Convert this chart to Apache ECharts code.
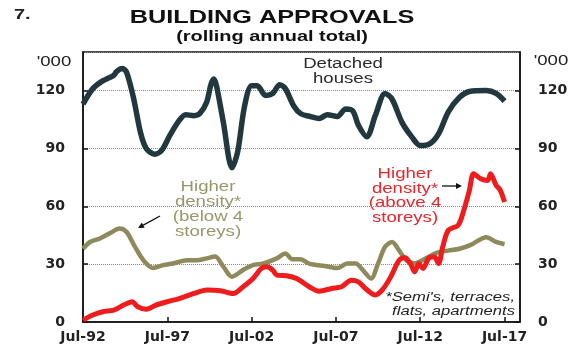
<!DOCTYPE html>
<html>
<head>
<meta charset="utf-8">
<title>Building approvals</title>
<script src="https://cdn.jsdelivr.net/npm/echarts@6/dist/echarts.min.js"></script>
<style>
html, body { margin: 0; padding: 0; background: #fff; }
#chart { width: 580px; height: 352px; }
</style>
</head>
<body>
<div id="chart"></div>
<script>
// x values are months counted from Jul-92
var xTickLabels = ['Jul-92', 'Jul-97', 'Jul-02', 'Jul-07', 'Jul-12', 'Jul-17'];

var detachedMonths = [0, 7, 14, 22, 24, 28, 31, 36, 41, 45, 51, 56, 62, 68, 73, 79, 83, 88, 91, 93,
  95, 100, 106, 110, 115, 120, 124, 130, 135, 140, 144, 150, 155, 162, 168, 174, 181, 187, 192, 196,
  202, 208, 215, 220, 227, 234, 240, 247, 253, 260, 268, 275, 287, 294, 300];
var detachedValues = [113, 121, 125, 128, 130, 131.5, 129.5, 116, 98, 90, 87, 89, 97, 104, 107.5, 107, 108, 114, 123, 126,
  122.5, 103, 80, 88, 112, 122.5, 122.5, 117.5, 118.5, 123, 121, 112, 108, 106.5, 105.5, 107.5, 106.5, 110.5, 109.5, 102,
  96, 107, 118.5, 115.5, 103.5, 96, 91.5, 92.5, 97.5, 109, 116.5, 119.5, 120, 118.5, 114.5];

var belowMonths = [0, 5, 12, 19, 26, 31, 37, 43, 50, 57, 64, 74, 81, 88, 94, 100, 106, 114, 121, 128,
  138, 144, 149, 155, 161, 172, 181, 188, 194, 199, 205, 210, 215, 220, 225, 230, 236, 244, 252, 260,
  268, 276, 287, 294, 300];
var belowValues = [38, 41.5, 43.3, 46, 48.5, 46.7, 39, 32, 28, 29.5, 30.3, 32, 32, 33, 34, 28.6, 23.5, 27, 29.5, 30.3,
  33, 35.5, 32.5, 32.5, 30.3, 29, 28, 30.3, 30.3, 27, 22.6, 30.3, 39, 41.5, 37, 32, 30.5, 33, 36, 37,
  38, 40, 44, 41.5, 40.3];

var aboveMonths = [0, 7, 14, 22, 29, 35, 39, 45, 52, 60, 69, 79, 88, 98, 107, 114, 121, 127, 131, 135,
  138, 145, 152, 161, 168, 177, 184, 191, 196, 201, 208, 213, 219, 225, 229, 233, 236, 239, 242, 246,
  250, 253, 256, 260, 267, 271, 275, 278, 283, 288, 290, 294, 297, 300];
var aboveValues = [1, 3.6, 5.3, 6.2, 8.8, 10.5, 7.9, 6.6, 8.8, 10.5, 12.3, 14.8, 16.6, 16.2, 14.8, 18.3, 22.6, 27.8, 28.6, 26.9,
  24.3, 24, 22.5, 18.3, 16, 17.4, 18.3, 21.7, 20.8, 17.4, 14, 16.6, 23.4, 32.1, 33.5, 30.3, 26, 30.3, 27.8, 33,
  33.8, 30.3, 39, 47.6, 50.2, 57.9, 68.3, 76.9, 74.3, 73.4, 76.9, 70.9, 68.3, 62.2];

function pairs(xs, ys) {
  return xs.map(function (x, i) { return [x, ys[i]]; });
}

var font = 'Arial, "Liberation Sans", sans-serif';
var stretch = 1.33;   // the original picture is a bit wider than tall

function label(text, x, y, size, color, extra) {
  extra = extra || {};
  return {
    type: 'text', x: x, y: y, scaleX: stretch, silent: true,
    style: {
      text: text,
      fill: color,
      font: (extra.style || 'normal') + ' ' + (extra.weight || 'normal') + ' ' + size + 'px ' + font,
      align: extra.align || 'center', textAlign: extra.align || 'center',
      verticalAlign: 'middle', textVerticalAlign: 'middle',
      lineHeight: extra.lineHeight || size
    }
  };
}

function arrow(x1, y1, x2, y2) {
  var a = Math.atan2(y2 - y1, x2 - x1), len = 6, w = 3;
  var bx = x2 - len * Math.cos(a), by = y2 - len * Math.sin(a);
  return {
    type: 'group', silent: true,
    children: [
      { type: 'line', shape: { x1: x1, y1: y1, x2: bx, y2: by }, style: { stroke: '#111', lineWidth: 1.3 } },
      { type: 'polygon', shape: { points: [[x2, y2],
        [bx + w * Math.sin(a), by - w * Math.cos(a)],
        [bx - w * Math.sin(a), by + w * Math.cos(a)]] }, style: { fill: '#111' } }
    ]
  };
}

var axisText = { fontFamily: 'DejaVu Sans', fontSize: 14, fontWeight: 'bold', color: '#222' };

var chart = echarts.init(document.getElementById('chart'));
chart.setOption({
  animation: false,
  grid: { left: 83, right: 60, top: 52, bottom: 30, show: true, borderColor: '#111', borderWidth: 1.5 },
  xAxis: {
    type: 'value', min: 0, max: 311, interval: 60,
    axisLine: { lineStyle: { color: '#111', width: 1.5 } },
    axisTick: { inside: true, length: 5, lineStyle: { color: '#111', width: 1.5 } },
    axisLabel: Object.assign({ margin: 8, showMaxLabel: false,
      formatter: function (v) { return v % 60 === 0 ? xTickLabels[v / 60] : ''; } }, axisText),
    splitLine: { show: false }
  },
  yAxis: [{
    type: 'value', min: 0, max: 140, interval: 30, position: 'left',
    axisLine: { show: true, lineStyle: { color: '#111', width: 1.5 } },
    axisTick: { show: true, inside: true, length: 5, lineStyle: { color: '#111', width: 1.5 } },
    axisLabel: Object.assign({ margin: 18, showMaxLabel: false,
      formatter: function (v) { return v === 140 ? '' : v; } }, axisText),
    splitLine: { show: true, lineStyle: { color: '#888', type: 'dotted', width: 1 } }
  }, {
    type: 'value', min: 0, max: 140, interval: 30, position: 'right',
    axisLine: { show: true, lineStyle: { color: '#111', width: 1.5 } },
    axisTick: { show: true, inside: true, length: 5, lineStyle: { color: '#111', width: 1.5 } },
    axisLabel: Object.assign({ margin: 18, showMaxLabel: false,
      formatter: function (v) { return v === 140 ? '' : v; } }, axisText),
    splitLine: { show: false }
  }],
  series: [{
    name: 'Detached houses', type: 'line', smooth: 0.3, symbol: 'none',
    lineStyle: { color: '#22383f', width: 5.5 },
    data: pairs(detachedMonths, detachedValues)
  }, {
    name: 'Higher density (below 4 storeys)', type: 'line', smooth: 0.3, symbol: 'none',
    lineStyle: { color: '#8e8a5b', width: 4.5 },
    data: pairs(belowMonths, belowValues)
  }, {
    name: 'Higher density (above 4 storeys)', type: 'line', smooth: 0.3, symbol: 'none',
    lineStyle: { color: '#ee1c1c', width: 5 },
    data: pairs(aboveMonths, aboveValues)
  }],
  graphic: [
    label('7.', 14, 15, 15, '#222', { align: 'left', weight: 'bold' }),
    label('BUILDING APPROVALS', 272, 18, 19, '#111', { weight: 'bold' }),
    label('(rolling annual total)', 272, 37, 15, '#111', { weight: 'bold' }),
    label("'000", 54, 62, 14, '#222'),
    label("'000", 551, 61, 14, '#222'),
    label('Detached\nhouses', 343, 72, 14, '#2b2b2b', { lineHeight: 15 }),
    label('Higher\ndensity*\n(above 4\nstoreys)', 405, 196, 14, '#e8262b', { lineHeight: 14.5 }),
    label('Higher\ndensity*\n(below 4\nstoreys)', 208, 209.5, 14, '#99966a', { lineHeight: 15 }),
    label("*Semi's, terraces,\nflats, apartments", 515, 305, 12.5, '#222', { align: 'right', style: 'italic', lineHeight: 14 }),
    arrow(160, 216, 138, 228),
    arrow(442, 186, 462, 186)
  ]
});
</script>
</body>
</html>
